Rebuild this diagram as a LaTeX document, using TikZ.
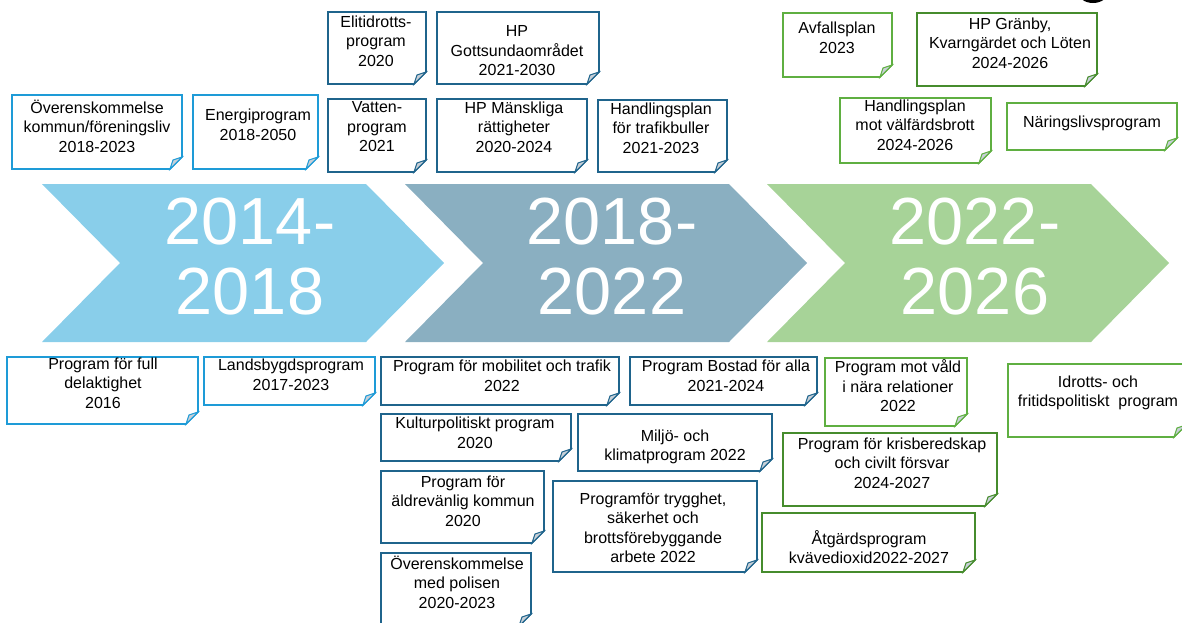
\documentclass[tikz,border=0pt]{standalone}
\usepackage{fontspec}
\setmainfont{Liberation Sans}
\usepackage{tikz}

\definecolor{spanA}{RGB}{137,206,234}
\definecolor{spanB}{RGB}{138,175,193}
\definecolor{spanC}{RGB}{167,211,152}
\definecolor{edgeA}{RGB}{30,155,215}
\definecolor{edgeB}{RGB}{31,100,140}
\definecolor{edgeC}{RGB}{95,175,65}
\definecolor{edgeD}{RGB}{70,140,45}
\definecolor{foldgrey}{RGB}{200,208,216}

\begin{document}
\begin{tikzpicture}[x=0.75pt, y=-0.75pt,
    notetext/.style={align=center, inner sep=0pt, font=\fontsize{12}{14.6}\selectfont},
    yeartext/.style={align=center, inner sep=0pt, text=white, font=\fontsize{50}{52.5}\selectfont}]
            \newcommand*{\notebox}[6]{
                \draw[#6, line width=1.3pt, fill=white]
                    (#2,#3) -- (#4,#3) -- (#4,#5-12) -- (#4-12,#5) -- (#2,#5) -- cycle;
                \filldraw[#6, line width=0.8pt, fill=foldgrey]
                    (#4-12,#5) .. controls (#4-10,#5-6) .. (#4-9,#5-9)
                    .. controls (#4-6,#5-10) .. (#4,#5-12) -- cycle;
                \coordinate (#1) at (#2,#3);
            }

            \useasboundingbox (0,0) rectangle (1182,622);
            \clip (0,0) rectangle (1182,622);

            \fill[black] (1093,-8) ellipse (15 and 11);

            \foreach \dx/\col in {0/spanA, 363/spanB, 725/spanC} {
                \begin{scope}[xshift=\dx*0.75pt]
                    \fill[\col] (42,184) -- (366,184) -- (444,263)
                        -- (366,342) -- (42,342) -- (120,263) -- cycle;
                \end{scope}
            }
            \node[yeartext] (y1) at (250,257) {2014-\\2018};
            \node[yeartext] (y2) at (612,257) {2018-\\2022};
            \node[yeartext] (y3) at (975,257) {2022-\\2026};

            \begin{scope}
                \notebox{b1}{12}{95}{182}{169}{edgeA}
                \notebox{b2}{193}{95}{318}{169}{edgeA}
                \notebox{b12}{7}{357}{198}{424}{edgeA}
                \notebox{b13}{204}{357}{375}{405}{edgeA}

                \node[notetext] (t1) at (97,126) {Överenskommelse\\kommun/föreningsliv\\2018-2023};
                \node[notetext] (t2) at (258,125) {Energiprogram\\2018-2050};
                \node[notetext] (t12) at (103,383) {Program för full\\delaktighet\\2016};
                \node[notetext] (t13) at (291,375) {Landsbygdsprogram\\2017-2023};
            \end{scope}

            \begin{scope}
                \notebox{b3}{328}{12}{426}{84}{edgeB}
                \notebox{b4}{437}{12}{599}{84}{edgeB}
                \notebox{b5}{328}{99}{426}{172}{edgeB}
                \notebox{b6}{437}{99}{587}{172}{edgeB}
                \notebox{b7}{598}{100}{727}{172}{edgeB}
                \notebox{b14}{381}{357}{619}{405}{edgeB}
                \notebox{b15}{630}{357}{817}{405}{edgeB}
                \notebox{b16}{381}{414}{571}{461}{edgeB}
                \notebox{b17}{578}{414}{772}{471}{edgeB}
                \notebox{b18}{381}{471}{544}{543}{edgeB}
                \notebox{b19}{553}{481}{757}{572}{edgeB}
                \notebox{b20}{381}{553}{531}{626}{edgeB}

                \node[notetext] (t3) at (376,41) {Elitidrotts-\\program\\2020};
                \node[notetext] (t4) at (517,51) {HP\\Gottsundaområdet\\2021-2030};
                \node[notetext] (t5) at (377,127) {Vatten-\\program\\2021};
                \node[notetext] (t6) at (514,127) {HP Mänskliga\\rättigheter\\2020-2024};
                \node[notetext] (t7) at (661,128) {Handlingsplan\\för trafikbuller\\2021-2023};
                \node[notetext] (t14) at (502,376) {Program för mobilitet och trafik\\2022};
                \node[notetext] (t15) at (726,376) {Program Bostad för alla\\2021-2024};
                \node[notetext] (t16) at (475,433) {Kulturpolitiskt program\\2020};
                \node[notetext] (t17) at (675,447) {Miljö- och\\klimatprogram 2022};
                \node[notetext] (t18) at (463,501) {Program för\\äldrevänlig kommun\\2020};
                \node[notetext] (t19) at (653,528) {Programför trygghet,\\säkerhet och\\brottsförebyggande\\arbete 2022};
                \node[notetext] (t20) at (457,582) {Överenskommelse\\med polisen\\2020-2023};
            \end{scope}

            \begin{scope}
                \notebox{b8}{783}{13}{892}{77}{edgeC}
                \notebox{b9}{917}{13}{1097}{86}{edgeD}
                \notebox{b10}{840}{98}{991}{163}{edgeC}
                \notebox{b11}{1007}{103}{1177}{150}{edgeC}
                \notebox{b21}{825}{358}{967}{426}{edgeC}
                \notebox{b22}{1008}{364}{1186}{437}{edgeC}
                \notebox{b23}{783}{433}{997}{506}{edgeD}
                \notebox{b24}{762}{513}{975}{572}{edgeD}

                \node[notetext] (t8) at (837,38) {Avfallsplan\\2023};
                \node[notetext] (t9) at (1010,43) {HP Gränby,\\Kvarngärdet och Löten\\2024-2026};
                \node[notetext] (t10) at (915,125) {Handlingsplan\\mot välfärdsbrott\\2024-2026};
                \node[notetext] (t11) at (1092,123) {Näringslivsprogram};
                \node[notetext] (t21) at (898,386) {Program mot våld\\i nära relationer\\2022};
                \node[notetext] (t22) at (1098,393) {Idrotts- och\\fritidspolitiskt\ \ program};
                \node[notetext] (t23) at (892,463) {Program för krisberedskap\\och civilt försvar\\2024-2027};
                \node[notetext] (t24) at (869,547) {Åtgärdsprogram\\kvävedioxid2022-2027};
            \end{scope}
        \end{tikzpicture}
\end{document}
